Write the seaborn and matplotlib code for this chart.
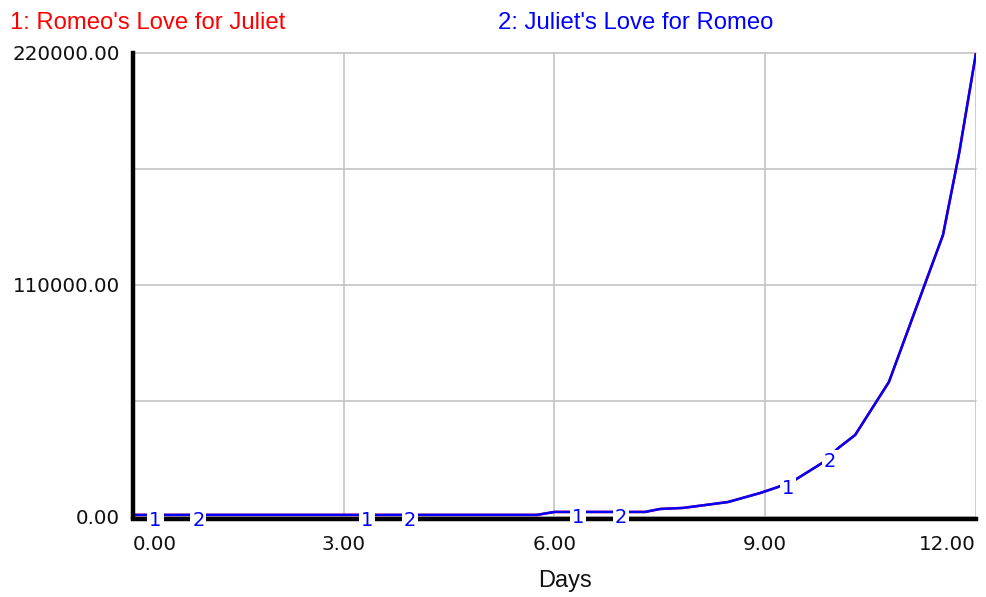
import numpy as np
import pandas as pd
import seaborn as sns
import matplotlib.pyplot as plt

# simulation output (both series coincide)
days = [0.0, 5.75, 6.0, 7.29, 7.5, 7.83, 8.47, 8.93, 9.18, 9.42, 9.81,
        10.04, 10.28, 10.76, 11.53, 11.76, 12.0]
romeo = [1000, 1000, 2400, 2400, 3800, 4300, 7100, 11400, 14200, 17500,
         25600, 32700, 38900, 64000, 133700, 172500, 220000]
juliet = [1000, 1000, 2400, 2400, 3800, 4300, 7100, 11400, 14200, 17500,
          25600, 32700, 38900, 64000, 133700, 172500, 220000]

series_names = ["1: Romeo's Love for Juliet", "2: Juliet's Love for Romeo"]
series_colors = ["#ff0000", "#0000ff"]

x_ticks = [0, 3, 6, 9, 12]
x_ticklabels = ["0.00", "3.00", "6.00", "9.00", "12.00"]
y_ticks = [0, 55000, 110000, 165000, 220000]
y_ticklabels = ["0.00", "", "110000.00", "", "220000.00"]

# where the little "1" / "2" markers sit along the line
marker_x1 = [0.32, 3.33, 6.33, 9.32]
marker_x2 = [0.93, 3.94, 6.95, 9.92]

df = pd.DataFrame({
    "Days": days + days,
    "value": romeo + juliet,
    "series": [series_names[0]] * len(days) + [series_names[1]] * len(days),
})

sns.set_style("white")
plt.rcParams['font.family'] = ['DejaVu Sans']

fig = plt.figure(figsize=(9.87, 5.97), dpi=100)
ax = fig.add_axes([133 / 987, 80 / 597, (976 - 133) / 987, (517 - 53) / 597])

sns.lineplot(data=df, x="Days", y="value", hue="series",
             palette=dict(zip(series_names, series_colors)),
             linewidth=1.8, legend=False, ax=ax, zorder=3)

ax.set_xlim(0, 12)
ax.set_ylim(0, 220000)
ax.set_xticks(x_ticks)
ax.set_xticklabels(x_ticklabels)
ax.set_yticks(y_ticks)
ax.set_yticklabels(y_ticklabels)
ax.set_xlabel("")
ax.set_ylabel("")

ax.grid(True, color="#c4c4c4", linewidth=1.2, zorder=0)
for gl in ax.get_xgridlines() + ax.get_ygridlines():
    gl.set_clip_on(False)

for side in ["top", "right"]:
    ax.spines[side].set_visible(False)
for side in ["left", "bottom"]:
    ax.spines[side].set_color("black")
    ax.spines[side].set_linewidth(3.2)
    ax.spines[side].set_zorder(4)
ax.spines["bottom"].set_position(("outward", 1.5))

ax.tick_params(axis="both", direction="out", length=4.5, width=2.8,
               color="black", labelsize=14.3, labelcolor="#111111")
ax.tick_params(axis="x", pad=7)
ax.tick_params(axis="y", pad=5)

xlabs = ax.get_xticklabels()
xlabs[0].set_horizontalalignment("left")
xlabs[0].set_x(-0.08)
xlabs[-1].set_horizontalalignment("right")
xlabs[-1].set_x(12.06)

# numbered markers on the curves
for xs, lab in [(marker_x1, "1"), (marker_x2, "2")]:
    for xv in xs:
        yv = np.interp(xv, days, juliet)
        ax.annotate(lab, (xv, yv), xytext=(0, -4), textcoords="offset points",
                    ha="center", va="center", color="#0000ff", fontsize=14,
                    bbox=dict(boxstyle="square,pad=0.1", fc="white", ec="none"),
                    zorder=5, annotation_clip=False)

fig.text(10 / 987, 1 - 23 / 597, series_names[0], color=series_colors[0],
         fontsize=17.2, family="Liberation Sans", ha="left", va="center")
fig.text(498 / 987, 1 - 23 / 597, series_names[1], color=series_colors[1],
         fontsize=17.2, family="Liberation Sans", ha="left", va="center")
fig.text(565 / 987, 1 - 581 / 597, "Days", color="#111111",
         fontsize=17, family="Liberation Sans", ha="center", va="center")

fig.savefig("out.png", dpi=100)
